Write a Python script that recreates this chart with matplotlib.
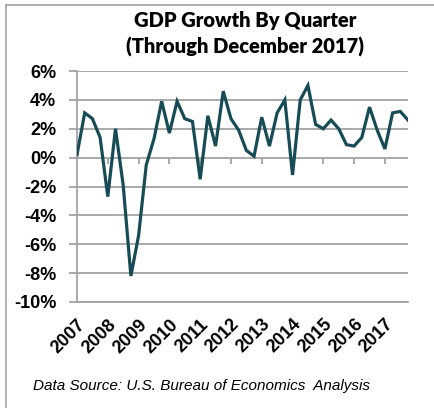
import matplotlib.pyplot as plt
from matplotlib.lines import Line2D

# Real GDP growth, quarterly annualized rate (%), 2007 Q1 - 2017 Q4
growth = [0.2, 3.1, 2.7, 1.4,
          -2.7, 2.0, -1.9, -8.2,
          -5.4, -0.5, 1.3, 3.9,
          1.7, 3.9, 2.7, 2.5,
          -1.5, 2.9, 0.8, 4.6,
          2.7, 1.9, 0.5, 0.1,
          2.8, 0.8, 3.1, 4.0,
          -1.2, 4.0, 5.0, 2.3,
          2.0, 2.6, 2.0, 0.9,
          0.8, 1.4, 3.5, 1.9,
          0.6, 3.1, 3.2, 2.6]
years = ["2007", "2008", "2009", "2010", "2011", "2012",
         "2013", "2014", "2015", "2016", "2017"]
y_ticks = [6, 4, 2, 0, -2, -4, -6, -8, -10]

grid_col = "#a3a3a3"
line_col = "#174c57"

fig = plt.figure(figsize=(4.35, 4.08), dpi=100)
ax = fig.add_axes([77 / 435, 1 - 302 / 408, 331 / 435, 231 / 408])

x = list(range(len(growth)))
ax.plot(x, growth, color=line_col, linewidth=2.3, solid_joinstyle="miter", zorder=3)

ax.set_xlim(0, len(growth) - 1)
ax.set_ylim(-10, 6)
ax.set_yticks(y_ticks)
ax.set_yticklabels([f"{v}%" for v in y_ticks], fontfamily="Liberation Sans",
                   fontweight="bold", fontsize=13)
ax.yaxis.grid(True, color=grid_col, linewidth=1.3)
ax.tick_params(axis="y", length=6, width=1.3, color=grid_col, pad=9)

# year labels at the first quarter of each year
year_pos = [4 * i for i in range(len(years))]
ax.set_xticks(year_pos)
ax.set_xticklabels(years, rotation=45, ha="right", va="top",
                   rotation_mode="anchor", fontfamily="Liberation Sans",
                   fontweight="bold", fontsize=13)
ax.tick_params(axis="x", length=0, pad=10)

# small tick marks hanging off the zero line
ax.vlines(year_pos[1:], -0.42, 0, color=grid_col, linewidth=1.3, zorder=2)

for side in ["top", "right"]:
    ax.spines[side].set_visible(False)
ax.spines["left"].set_color(grid_col)
ax.spines["left"].set_linewidth(1.3)
ax.spines["bottom"].set_color(grid_col)
ax.spines["bottom"].set_linewidth(1.3)

fig.text(0.563, 1 - 20 / 408, "GDP Growth By Quarter", ha="center", va="center",
         fontfamily="Lato", fontweight="heavy", fontsize=14.5)
fig.text(0.563, 1 - 47 / 408, "(Through December 2017)", ha="center", va="center",
         fontfamily="Lato", fontweight="heavy", fontsize=14.5)
fig.text(33 / 435, 1 - 386 / 408, "Data Source: U.S. Bureau of Economics  Analysis",
         ha="left", va="center", fontfamily="Liberation Sans", fontstyle="italic",
         fontsize=11)

# chart frame
fig.add_artist(Line2D([6 / 435, 6 / 435], [0, 1 - 5 / 408], color=grid_col, linewidth=1.2))
fig.add_artist(Line2D([6 / 435, 1], [1 - 5 / 408, 1 - 5 / 408], color=grid_col, linewidth=1.2))

fig.savefig("out.png", dpi=100)
